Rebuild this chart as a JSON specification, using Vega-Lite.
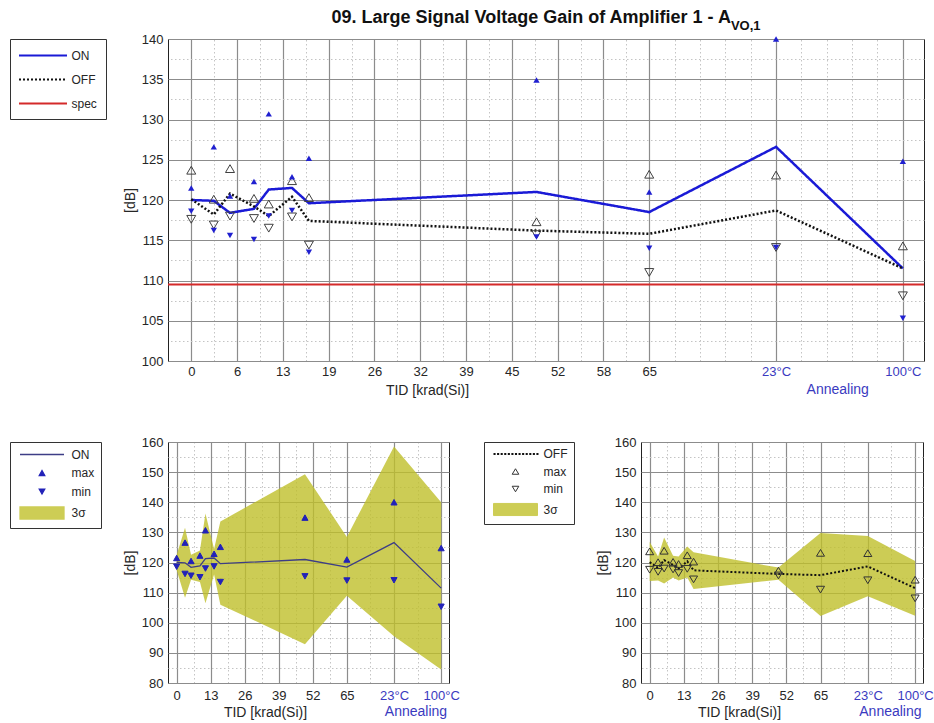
{
  "$schema": "https://vega.github.io/schema/vega-lite/v6.json",
  "background": "white",
  "padding": {"left": 9, "top": 8, "right": 5, "bottom": 5},
  "bounds": "flush",
  "spacing": 81,
  "config": {
    "font": "Liberation Sans",
    "view": {"stroke": "#222222", "strokeWidth": 1},
    "axis": {
      "labelFont": "Liberation Sans", "labelFontSize": 13, "labelColor": "#262626",
      "titleFont": "Liberation Sans", "titleFontSize": 14, "titleFontWeight": "normal", "titleColor": "#262626",
      "ticks": false, "domain": false, "gridColor": "#8c8c8c", "gridWidth": 1.2, "gridOpacity": 1,
      "labelFlush": false, "labelOverlap": false
    },
    "legend": {
      "labelFont": "Liberation Sans", "labelFontSize": 12, "labelColor": "#262626",
      "strokeColor": "#333333", "fillColor": "white"
    }
  },
  "datasets": {
    "means": [
      {"series": "ON", "tid": 0, "v": 120.0}, {"series": "ON", "tid": 3.2, "v": 119.9}, {"series": "ON", "tid": 5.5, "v": 118.4},
      {"series": "ON", "tid": 8.9, "v": 118.9}, {"series": "ON", "tid": 11, "v": 121.3}, {"series": "ON", "tid": 14.3, "v": 121.5},
      {"series": "ON", "tid": 16.7, "v": 119.6}, {"series": "ON", "tid": 49, "v": 121.0}, {"series": "ON", "tid": 65, "v": 118.5},
      {"series": "ON", "tid": 83, "v": 126.6}, {"series": "ON", "tid": 101, "v": 111.5},
      {"series": "OFF", "tid": 0, "v": 120.1}, {"series": "OFF", "tid": 3.2, "v": 118.2}, {"series": "OFF", "tid": 5.5, "v": 120.8},
      {"series": "OFF", "tid": 8.9, "v": 119.2}, {"series": "OFF", "tid": 11, "v": 118.0}, {"series": "OFF", "tid": 14.3, "v": 120.4},
      {"series": "OFF", "tid": 16.7, "v": 117.4}, {"series": "OFF", "tid": 49, "v": 116.2}, {"series": "OFF", "tid": 65, "v": 115.8},
      {"series": "OFF", "tid": 83, "v": 118.7}, {"series": "OFF", "tid": 101, "v": 111.5}
    ],
    "extremes": [
      {"group": "ON", "stat": "max", "tid": 0, "v": 121.5}, {"group": "ON", "stat": "max", "tid": 3.2, "v": 126.6},
      {"group": "ON", "stat": "max", "tid": 5.5, "v": 120.5}, {"group": "ON", "stat": "max", "tid": 8.9, "v": 122.3},
      {"group": "ON", "stat": "max", "tid": 11, "v": 130.7}, {"group": "ON", "stat": "max", "tid": 14.3, "v": 122.9},
      {"group": "ON", "stat": "max", "tid": 16.7, "v": 125.2}, {"group": "ON", "stat": "max", "tid": 49, "v": 134.9},
      {"group": "ON", "stat": "max", "tid": 65, "v": 121.0}, {"group": "ON", "stat": "max", "tid": 83, "v": 140.0},
      {"group": "ON", "stat": "max", "tid": 101, "v": 124.8},
      {"group": "ON", "stat": "min", "tid": 0, "v": 118.6}, {"group": "ON", "stat": "min", "tid": 3.2, "v": 116.2},
      {"group": "ON", "stat": "min", "tid": 5.5, "v": 115.6}, {"group": "ON", "stat": "min", "tid": 8.9, "v": 115.1},
      {"group": "ON", "stat": "min", "tid": 11, "v": 118.0}, {"group": "ON", "stat": "min", "tid": 14.3, "v": 118.7},
      {"group": "ON", "stat": "min", "tid": 16.7, "v": 113.5}, {"group": "ON", "stat": "min", "tid": 49, "v": 115.4},
      {"group": "ON", "stat": "min", "tid": 65, "v": 114.0}, {"group": "ON", "stat": "min", "tid": 83, "v": 114.1},
      {"group": "ON", "stat": "min", "tid": 101, "v": 105.3},
      {"group": "OFF", "stat": "max", "tid": 0, "v": 123.7}, {"group": "OFF", "stat": "max", "tid": 3.2, "v": 120.1},
      {"group": "OFF", "stat": "max", "tid": 5.5, "v": 123.9}, {"group": "OFF", "stat": "max", "tid": 8.9, "v": 120.2},
      {"group": "OFF", "stat": "max", "tid": 11, "v": 119.5}, {"group": "OFF", "stat": "max", "tid": 14.3, "v": 122.4},
      {"group": "OFF", "stat": "max", "tid": 16.7, "v": 120.3}, {"group": "OFF", "stat": "max", "tid": 49, "v": 117.3},
      {"group": "OFF", "stat": "max", "tid": 65, "v": 123.2}, {"group": "OFF", "stat": "max", "tid": 83, "v": 123.1},
      {"group": "OFF", "stat": "max", "tid": 101, "v": 114.3},
      {"group": "OFF", "stat": "min", "tid": 0, "v": 117.6}, {"group": "OFF", "stat": "min", "tid": 3.2, "v": 116.9},
      {"group": "OFF", "stat": "min", "tid": 5.5, "v": 118.0}, {"group": "OFF", "stat": "min", "tid": 8.9, "v": 117.7},
      {"group": "OFF", "stat": "min", "tid": 11, "v": 116.5}, {"group": "OFF", "stat": "min", "tid": 14.3, "v": 117.9},
      {"group": "OFF", "stat": "min", "tid": 16.7, "v": 114.4}, {"group": "OFF", "stat": "min", "tid": 49, "v": 115.7},
      {"group": "OFF", "stat": "min", "tid": 65, "v": 111.0}, {"group": "OFF", "stat": "min", "tid": 83, "v": 114.1},
      {"group": "OFF", "stat": "min", "tid": 101, "v": 108.1}
    ],
    "bands": [
      {"group": "ON", "tid": 0, "hi": 122.5, "lo": 117.5}, {"group": "ON", "tid": 3.2, "hi": 131.5, "lo": 108.3},
      {"group": "ON", "tid": 5.5, "hi": 122.6, "lo": 114.3}, {"group": "ON", "tid": 8.9, "hi": 124.0, "lo": 113.5},
      {"group": "ON", "tid": 11, "hi": 136.3, "lo": 106.5}, {"group": "ON", "tid": 14.3, "hi": 124.5, "lo": 116.0},
      {"group": "ON", "tid": 16.7, "hi": 133.6, "lo": 106.0}, {"group": "ON", "tid": 49, "hi": 149.3, "lo": 92.9},
      {"group": "ON", "tid": 65, "hi": 128.5, "lo": 109.0}, {"group": "ON", "tid": 83, "hi": 158.5, "lo": 95.5},
      {"group": "ON", "tid": 101, "hi": 140.0, "lo": 84.5},
      {"group": "OFF", "tid": 0, "hi": 126.8, "lo": 113.9}, {"group": "OFF", "tid": 3.2, "hi": 122.0, "lo": 114.0},
      {"group": "OFF", "tid": 5.5, "hi": 128.3, "lo": 113.0}, {"group": "OFF", "tid": 8.9, "hi": 122.2, "lo": 115.0},
      {"group": "OFF", "tid": 11, "hi": 122.0, "lo": 114.0}, {"group": "OFF", "tid": 14.3, "hi": 125.3, "lo": 115.0},
      {"group": "OFF", "tid": 16.7, "hi": 123.4, "lo": 111.2}, {"group": "OFF", "tid": 49, "hi": 118.3, "lo": 114.3},
      {"group": "OFF", "tid": 65, "hi": 129.8, "lo": 102.2}, {"group": "OFF", "tid": 83, "hi": 128.8, "lo": 108.8},
      {"group": "OFF", "tid": 101, "hi": 120.5, "lo": 102.3}
    ]
  },
  "resolve": {
    "scale": {"color": "independent", "fill": "independent", "stroke": "independent", "shape": "independent", "strokeDash": "independent"},
    "legend": {"color": "independent", "fill": "independent", "stroke": "independent", "shape": "independent", "strokeDash": "independent"}
  },
  "vconcat": [
    {
      "width": 756,
      "height": 322,
      "resolve": {"axis": {"x": "independent", "y": "independent"}},
      "layer": [
        {
          "data": {"name": "means"},
          "mark": {"type": "line", "strokeWidth": 2.5},
          "encoding": {
            "x": {"field": "tid", "type": "quantitative",
              "scale": {"domain": [-3.3, 104], "nice": false, "zero": false},
              "axis": {"values": [0, 6.5, 13, 19.5, 26, 32.5, 39, 45.5, 52, 58.5, 65, 83, 101],
                "labelExpr": "datum.value == 83 ? '23°C' : datum.value == 101 ? '100°C' : '' + floor(datum.value)",
                "labelColor": {"condition": {"test": "datum.value > 70", "value": "#3a3ac0"}, "value": "#262626"},
                "grid": true, "labelPadding": 4, "title": "TID [krad(Si)]", "titleX": 259, "titlePadding": 5}},
            "y": {"field": "v", "type": "quantitative",
              "scale": {"domain": [100, 140], "nice": false, "zero": false},
              "axis": {"values": [100, 105, 110, 115, 120, 125, 130, 135, 140], "grid": true, "labelPadding": 5, "title": "[dB]", "titlePadding": 4}},
            "color": {"field": "series", "type": "nominal",
              "scale": {"domain": ["ON", "OFF", "spec"], "range": ["#1a1ad6", "#111111", "#d42a2a"]},
              "legend": {"title": null, "orient": "none", "legendX": -158, "legendY": 0, "symbolType": "M-4,0H4", "symbolSize": 144,
                "symbolStrokeWidth": 2.2, "symbolOffset": 16.5, "labelOffset": 21, "rowPadding": 10, "padding": 9}},
            "strokeDash": {"field": "series", "type": "nominal",
              "scale": {"domain": ["ON", "OFF", "spec"], "range": [[1, 0], [2, 2], [1, 0]]},
              "legend": {"title": null, "orient": "none", "legendX": -158, "legendY": 0, "symbolType": "M-4,0H4", "symbolSize": 144,
                "symbolStrokeWidth": 2.2, "symbolOffset": 16.5, "labelOffset": 21, "rowPadding": 10, "padding": 9}}
          }
        },
        {
          "data": {"values": [{}]},
          "mark": {"type": "rule", "strokeWidth": 1.8},
          "encoding": {
            "y": {"datum": 109.5, "type": "quantitative", "axis": null},
            "color": {"datum": "spec", "type": "nominal"},
            "strokeDash": {"datum": "spec", "type": "nominal"}
          }
        },
        {
          "data": {"name": "extremes"},
          "transform": [{"filter": "datum.group === 'OFF'"}],
          "mark": {"type": "point", "filled": false, "size": 81, "strokeWidth": 1, "opacity": 1, "color": "#404040"},
          "encoding": {
            "x": {"field": "tid", "type": "quantitative",
              "axis": {"orient": "top", "values": [3.25, 9.75, 16.25, 22.75, 29.25, 35.75, 42.25, 48.75, 55.25, 61.75, 68.6, 72.2, 75.8, 79.4, 86.6, 90.2, 93.8, 97.4],
                "grid": true, "gridDash": [1.5, 2.5], "gridColor": "#c4c4c4", "gridWidth": 1, "labels": false, "title": null}},
            "y": {"field": "v", "type": "quantitative",
              "axis": {"orient": "right", "values": [102.5, 107.5, 112.5, 117.5, 122.5, 127.5, 132.5, 137.5],
                "grid": true, "gridDash": [1.5, 2.5], "gridColor": "#c4c4c4", "gridWidth": 1, "labels": false, "title": null}},
            "shape": {"field": "stat", "type": "nominal", "scale": {"domain": ["max", "min"], "range": ["triangle-up", "triangle-down"]}, "legend": null}
          }
        },
        {
          "data": {"name": "extremes"},
          "transform": [{"filter": "datum.group === 'ON'"}],
          "mark": {"type": "point", "filled": true, "size": 40, "opacity": 1, "color": "#2020d0"},
          "encoding": {
            "x": {"field": "tid", "type": "quantitative", "axis": null},
            "y": {"field": "v", "type": "quantitative", "axis": null},
            "shape": {"field": "stat", "type": "nominal", "legend": null}
          }
        },
        {
          "data": {"values": [{}]},
          "mark": {"type": "text", "text": "09. Large Signal Voltage Gain of Amplifier 1 - A", "fontSize": 18, "fontWeight": "bold", "align": "right", "baseline": "alphabetic", "color": "#111111"},
          "encoding": {
            "x": {"datum": 76.6, "type": "quantitative", "axis": null},
            "y": {"datum": 141.93, "type": "quantitative", "axis": null}
          }
        },
        {
          "data": {"values": [{}]},
          "mark": {"type": "text", "text": "VO,1", "fontSize": 13, "fontWeight": "bold", "align": "left", "baseline": "alphabetic", "color": "#111111"},
          "encoding": {
            "x": {"datum": 76.6, "type": "quantitative", "axis": null},
            "y": {"datum": 141.06, "type": "quantitative", "axis": null}
          }
        },
        {
          "data": {"values": [{}]},
          "mark": {"type": "text", "text": "Annealing", "fontSize": 14, "align": "center", "baseline": "alphabetic", "color": "#3a3ac0"},
          "encoding": {
            "x": {"datum": 91.75, "type": "quantitative", "axis": null},
            "y": {"datum": 95.9, "type": "quantitative", "axis": null}
          }
        }
      ]
    },
    {
      "hconcat": [
        {
          "width": 281,
          "height": 241,
          "resolve": {"axis": {"x": "independent", "y": "independent"}},
          "layer": [
            {
              "data": {"name": "bands"},
              "transform": [{"filter": "datum.group === 'ON'"}],
              "mark": {"type": "area", "color": "#bfbf2a", "opacity": 0.8},
              "encoding": {
                "x": {"field": "tid", "type": "quantitative",
                  "scale": {"domain": [-3.3, 104], "nice": false, "zero": false},
                  "axis": {"orient": "top", "values": [6.5, 19.5, 32.5, 45.5, 58.5, 74, 92],
                    "grid": true, "gridDash": [1.5, 2.5], "gridColor": "#c4c4c4", "gridWidth": 1, "labels": false, "title": null}},
                "y": {"field": "hi", "type": "quantitative",
                  "scale": {"domain": [80, 160], "nice": false, "zero": false},
                  "axis": {"orient": "right", "values": [85, 95, 105, 115, 125, 135, 145, 155],
                    "grid": true, "gridDash": [1.5, 2.5], "gridColor": "#c4c4c4", "gridWidth": 1, "labels": false, "title": null}},
                "y2": {"field": "lo"}
              }
            },
            {
              "data": {"name": "means"},
              "transform": [{"filter": "datum.series === 'ON'"}],
              "mark": {"type": "line", "color": "#3d3d86", "strokeWidth": 1.3},
              "encoding": {
                "x": {"field": "tid", "type": "quantitative",
                  "axis": {"values": [0, 13, 26, 39, 52, 65, 83, 101],
                    "labelExpr": "datum.value == 83 ? '23°C' : datum.value == 101 ? '100°C' : '' + floor(datum.value)",
                    "labelColor": {"condition": {"test": "datum.value > 70", "value": "#3a3ac0"}, "value": "#262626"},
                    "grid": true, "labelPadding": 6, "title": "TID [krad(Si)]", "titleX": 97, "titlePadding": 3}},
                "y": {"field": "v", "type": "quantitative",
                  "axis": {"values": [80, 90, 100, 110, 120, 130, 140, 150, 160], "grid": true, "labelPadding": 5, "title": "[dB]", "titlePadding": 4}}
              }
            },
            {
              "data": {"name": "extremes"},
              "transform": [{"filter": "datum.group === 'ON'"}],
              "mark": {"type": "point", "filled": true, "size": 150, "opacity": 1, "strokeWidth": 1},
              "encoding": {
                "x": {"field": "tid", "type": "quantitative", "axis": null},
                "y": {"field": "v", "type": "quantitative", "axis": null},
                "shape": {"field": "stat", "type": "nominal",
                  "scale": {"domain": ["ON", "max", "min", "3σ"], "range": ["M-4,0H4", "M0,-0.45L0.5,0.45L-0.5,0.45Z", "M0,0.45L0.5,-0.45L-0.5,-0.45Z", "M-4,-1.1H4V1.1H-4Z"]},
                  "legend": {"title": null, "orient": "none", "legendX": -158, "legendY": 0, "symbolSize": 121, "symbolStrokeWidth": 1.3,
                    "symbolOffset": 19.5, "labelOffset": 23, "rowPadding": 5.5, "padding": 6}},
                "fill": {"field": "stat", "type": "nominal",
                  "scale": {"domain": ["ON", "max", "min", "3σ"], "range": ["#3d3d86", "#2222b8", "#2222b8", "#cdcd55"]},
                  "legend": {"title": null, "orient": "none", "legendX": -158, "legendY": 0, "symbolSize": 121, "symbolStrokeWidth": 1.3,
                    "symbolOffset": 19.5, "labelOffset": 23, "rowPadding": 5.5, "padding": 6}},
                "stroke": {"field": "stat", "type": "nominal",
                  "scale": {"domain": ["ON", "max", "min", "3σ"], "range": ["#3d3d86", "#2222b8", "#2222b8", "#cdcd55"]},
                  "legend": {"title": null, "orient": "none", "legendX": -158, "legendY": 0, "symbolSize": 121, "symbolStrokeWidth": 1.3,
                    "symbolOffset": 19.5, "labelOffset": 23, "rowPadding": 5.5, "padding": 6}}
              }
            },
            {
              "data": {"values": [{}]},
              "mark": {"type": "text", "text": "Annealing", "fontSize": 14, "align": "center", "baseline": "alphabetic", "color": "#3a3ac0"},
              "encoding": {
                "x": {"datum": 91.4, "type": "quantitative", "axis": null},
                "y": {"datum": 69.05, "type": "quantitative", "axis": null}
              }
            }
          ]
        },
        {
          "width": 282,
          "height": 241,
          "resolve": {"axis": {"x": "independent", "y": "independent"}},
          "layer": [
            {
              "data": {"name": "bands"},
              "transform": [{"filter": "datum.group === 'OFF'"}],
              "mark": {"type": "area", "color": "#bfbf2a", "opacity": 0.8},
              "encoding": {
                "x": {"field": "tid", "type": "quantitative",
                  "scale": {"domain": [-3.3, 104], "nice": false, "zero": false},
                  "axis": {"orient": "top", "values": [6.5, 19.5, 32.5, 45.5, 58.5, 74, 92],
                    "grid": true, "gridDash": [1.5, 2.5], "gridColor": "#c4c4c4", "gridWidth": 1, "labels": false, "title": null}},
                "y": {"field": "hi", "type": "quantitative",
                  "scale": {"domain": [80, 160], "nice": false, "zero": false},
                  "axis": {"orient": "right", "values": [85, 95, 105, 115, 125, 135, 145, 155],
                    "grid": true, "gridDash": [1.5, 2.5], "gridColor": "#c4c4c4", "gridWidth": 1, "labels": false, "title": null}},
                "y2": {"field": "lo"}
              }
            },
            {
              "data": {"name": "means"},
              "transform": [{"filter": "datum.series === 'OFF'"}],
              "mark": {"type": "line", "color": "#111111", "strokeWidth": 2, "strokeDash": [2, 2]},
              "encoding": {
                "x": {"field": "tid", "type": "quantitative",
                  "axis": {"values": [0, 13, 26, 39, 52, 65, 83, 101],
                    "labelExpr": "datum.value == 83 ? '23°C' : datum.value == 101 ? '100°C' : '' + floor(datum.value)",
                    "labelColor": {"condition": {"test": "datum.value > 70", "value": "#3a3ac0"}, "value": "#262626"},
                    "grid": true, "labelPadding": 6, "title": "TID [krad(Si)]", "titleX": 98, "titlePadding": 3}},
                "y": {"field": "v", "type": "quantitative",
                  "axis": {"values": [80, 90, 100, 110, 120, 130, 140, 150, 160], "grid": true, "labelPadding": 5, "title": "[dB]", "titlePadding": 4}}
              }
            },
            {
              "data": {"name": "extremes"},
              "transform": [{"filter": "datum.group === 'OFF'"}],
              "mark": {"type": "point", "filled": true, "size": 180, "opacity": 1, "strokeWidth": 1},
              "encoding": {
                "x": {"field": "tid", "type": "quantitative", "axis": null},
                "y": {"field": "v", "type": "quantitative", "axis": null},
                "shape": {"field": "stat", "type": "nominal",
                  "scale": {"domain": ["OFF", "max", "min", "3σ"], "range": ["M-4,-0.2h0.38v0.4h-0.38zM-3.35,-0.2h0.38v0.4h-0.38zM-2.7,-0.2h0.38v0.4h-0.38zM-2.05,-0.2h0.38v0.4h-0.38zM-1.4,-0.2h0.38v0.4h-0.38zM-0.75,-0.2h0.38v0.4h-0.38zM-0.1,-0.2h0.38v0.4h-0.38zM0.55,-0.2h0.38v0.4h-0.38zM1.2,-0.2h0.38v0.4h-0.38zM1.85,-0.2h0.38v0.4h-0.38zM2.5,-0.2h0.38v0.4h-0.38zM3.15,-0.2h0.38v0.4h-0.38zM3.8,-0.2h0.38v0.4h-0.38z", "M0,-0.5L0.6,0.5L-0.6,0.5Z", "M0,0.5L0.6,-0.5L-0.6,-0.5Z", "M-4,-1.1H4V1.1H-4Z"]},
                  "legend": {"title": null, "orient": "none", "legendX": -157, "legendY": 0, "symbolSize": 121, "symbolStrokeWidth": 1,
                    "symbolOffset": 19.5, "labelOffset": 22, "rowPadding": 5.5, "padding": 6}},
                "fill": {"field": "stat", "type": "nominal",
                  "scale": {"domain": ["OFF", "max", "min", "3σ"], "range": ["#111111", "transparent", "transparent", "#cdcd55"]},
                  "legend": {"title": null, "orient": "none", "legendX": -157, "legendY": 0, "symbolSize": 121, "symbolStrokeWidth": 1,
                    "symbolOffset": 19.5, "labelOffset": 22, "rowPadding": 5.5, "padding": 6}},
                "stroke": {"field": "stat", "type": "nominal",
                  "scale": {"domain": ["OFF", "max", "min", "3σ"], "range": ["transparent", "#333333", "#333333", "#cdcd55"]},
                  "legend": {"title": null, "orient": "none", "legendX": -157, "legendY": 0, "symbolSize": 121, "symbolStrokeWidth": 1,
                    "symbolOffset": 19.5, "labelOffset": 22, "rowPadding": 5.5, "padding": 6}}
              }
            },
            {
              "data": {"values": [{}]},
              "mark": {"type": "text", "text": "Annealing", "fontSize": 14, "align": "center", "baseline": "alphabetic", "color": "#3a3ac0"},
              "encoding": {
                "x": {"datum": 91.6, "type": "quantitative", "axis": null},
                "y": {"datum": 69.05, "type": "quantitative", "axis": null}
              }
            }
          ]
        }
      ],
      "spacing": 192,
      "bounds": "flush",
      "resolve": {
        "scale": {"color": "independent", "fill": "independent", "stroke": "independent", "shape": "independent", "strokeDash": "independent"},
        "legend": {"color": "independent", "fill": "independent", "stroke": "independent", "shape": "independent", "strokeDash": "independent"}
      }
    }
  ]
}
